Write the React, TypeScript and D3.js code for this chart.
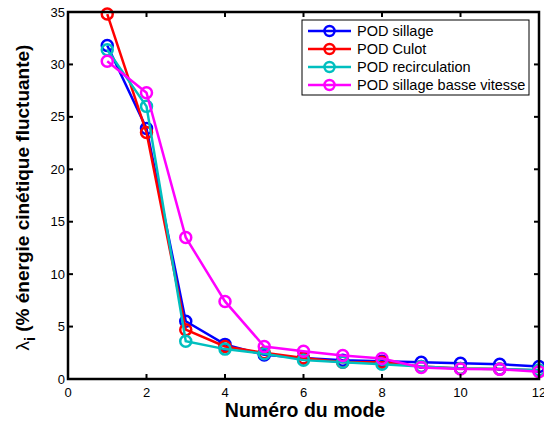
import React from "react";
import * as d3 from "d3";

const modes = [1, 2, 3, 4, 5, 6, 7, 8, 9, 10, 11, 12];
const podSillage = [31.8, 23.9, 5.5, 3.3, 2.3, 2.0, 1.8, 1.7, 1.6, 1.5, 1.4, 1.2];
const podCulot = [34.8, 23.5, 4.7, 3.1, 2.5, 2.0, 1.6, 1.6, 1.2, 1.0, 0.95, 0.8];
const podRecirculation = [31.4, 26.0, 3.6, 2.85, 2.4, 1.8, 1.6, 1.4, 1.2, 1.0, 0.95, 0.85];
const podBasseVitesse = [30.3, 27.3, 13.5, 7.4, 3.1, 2.65, 2.25, 1.95, 1.1, 0.95, 0.92, 0.7];
const seriesNames = ["POD sillage", "POD Culot", "POD recirculation", "POD sillage basse vitesse"];
const seriesColors = ["#0000ff", "#ff0000", "#00bfbf", "#ff00ff"];
const xTicks = [0, 2, 4, 6, 8, 10, 12];
const yTicks = [0, 5, 10, 15, 20, 25, 30, 35];

export default function App() {
  const W = 544, H = 424;
  const L = 68, R = 539, T = 12, B = 379;
  const x = d3.scaleLinear().domain([0, 12]).range([L, R]);
  const y = d3.scaleLinear().domain([0, 35]).range([B, T]);
  const allSeries = [podSillage, podCulot, podRecirculation, podBasseVitesse];
  const line = d3.line<number>().x((_, i) => x(modes[i])).y((d) => y(d));
  const font = "Liberation Sans, Arial, Helvetica, sans-serif";
  const tl = 5;
  return (
    <svg width={W} height={H} style={{ position: "absolute", left: 0, top: 0, background: "#fff" }} fontFamily={font}>
      <rect x={0} y={0} width={W} height={H} fill="#fff" />
      {allSeries.map((s, k) => (
        <g key={k}>
          <path d={line(s) || ""} fill="none" stroke={seriesColors[k]} strokeWidth={2.5} />
          {s.map((v, i) => (
            <circle key={i} cx={x(modes[i])} cy={y(v)} r={5.5} fill="none" stroke={seriesColors[k]} strokeWidth={2.5} />
          ))}
        </g>
      ))}
      <rect x={L} y={T} width={R - L} height={B - T} fill="none" stroke="#000" strokeWidth={2.5} />
      {xTicks.map((t) => (
        <g key={"x" + t}>
          <line x1={x(t)} x2={x(t)} y1={B} y2={B - tl} stroke="#000" strokeWidth={2} />
          <line x1={x(t)} x2={x(t)} y1={T} y2={T + tl} stroke="#000" strokeWidth={2} />
          <text x={x(t)} y={B + 18} fontSize={13} textAnchor="middle" fill="#000">{t}</text>
        </g>
      ))}
      {yTicks.map((t) => (
        <g key={"y" + t}>
          <line x1={L} x2={L + tl} y1={y(t)} y2={y(t)} stroke="#000" strokeWidth={2} />
          <line x1={R} x2={R - tl} y1={y(t)} y2={y(t)} stroke="#000" strokeWidth={2} />
          <text x={L - 3} y={y(t) + 4.5} fontSize={13} textAnchor="end" fill="#000">{t}</text>
        </g>
      ))}
      <text x={305} y={417} fontSize={19.5} fontWeight="bold" textAnchor="middle" fill="#000">Numéro du mode</text>
      <text transform={`translate(29, ${(T + B) / 2 + 2}) rotate(-90)`} fontSize={19} fontWeight="bold" textAnchor="middle" fill="#000">
        <tspan fontWeight="normal">λ</tspan>
        <tspan fontSize={14} dy={6}>i</tspan>
        <tspan dy={-6}> (% énergie cinétique fluctuante)</tspan>
      </text>
      <rect x={302} y={20} width={227} height={75} fill="#fff" stroke="#000" strokeWidth={1} />
      {seriesNames.map((n, k) => {
        const yy = 31 + k * 18;
        return (
          <g key={n}>
            <line x1={308} x2={351} y1={yy} y2={yy} stroke={seriesColors[k]} strokeWidth={2.5} />
            <circle cx={329.5} cy={yy} r={5} fill="none" stroke={seriesColors[k]} strokeWidth={2.5} />
            <text x={357} y={yy + 5} fontSize={14.5} fill="#000">{n}</text>
          </g>
        );
      })}
    </svg>
  );
}
